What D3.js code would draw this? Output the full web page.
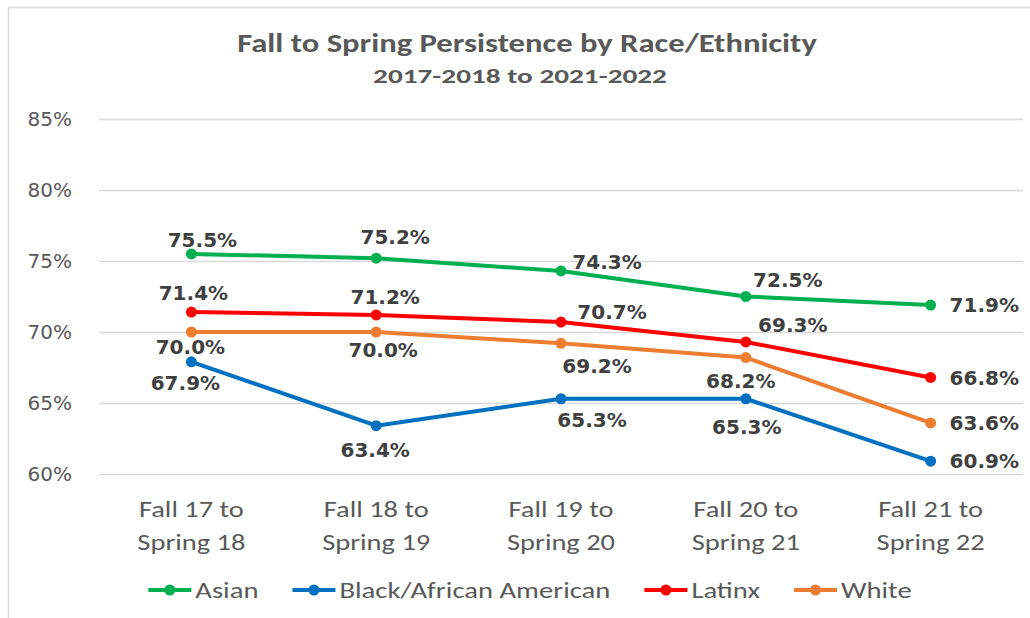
<!DOCTYPE html>
<html>
<head>
<meta charset="utf-8">
<script src="https://cdn.jsdelivr.net/npm/d3@7"></script>
<style>
  html, body { margin: 0; padding: 0; background: #fff; }
  svg { display: block; }
</style>
</head>
<body>
<div id="chart"></div>
<script>
// Chart data
const categories = [
    ["Fall 17 to", "Spring 18"],
    ["Fall 18 to", "Spring 19"],
    ["Fall 19 to", "Spring 20"],
    ["Fall 20 to", "Spring 21"],
    ["Fall 21 to", "Spring 22"]
];
const seriesNames = ["Asian", "Black/African American", "Latinx", "White"];
const asian = [75.5, 75.2, 74.3, 72.5, 71.9];
const black = [67.9, 63.4, 65.3, 65.3, 60.9];
const latinx = [71.4, 71.2, 70.7, 69.3, 66.8];
const white = [70.0, 70.0, 69.2, 68.2, 63.6];
const yTicks = [60, 65, 70, 75, 80, 85];

const colors = ["#00b050", "#0070c0", "#ff0000", "#ed7d31"];

// label offsets (label center relative to the point), last point goes to the right
const labelOffsets = [
    [[11, -14], [19, -21], [46, -9], [42, -17]],
    [[-6, 21], [-1, 24], [31, 21], [1, 28]],
    [[2, -19], [9, -18], [51, -10], [47, -17]],
    [[-1, 15], [7, 18], [36, 22], [-5, 23]]
];

const width = 1030, height = 618;
const margin = { left: 99, right: 1023, top: 119, bottom: 474 };
const sans = "Carlito, Lato, 'Open Sans', sans-serif";

const svg = d3.select("#chart").append("svg")
    .attr("width", width)
    .attr("height", height);

// stretch a text horizontally around ax so it reaches the wanted width
function fitWidth(sel, target, ax) {
    const w = sel.node().getComputedTextLength();
    const sx = target / w;
    sel.attr("transform", `translate(${ax},0) scale(${sx},1) translate(${-ax},0)`);
    return sx;
}

// chart border
svg.append("rect")
    .attr("x", 8.5).attr("y", 7.5)
    .attr("width", 1040).attr("height", 640)
    .attr("fill", "#fff")
    .attr("stroke", "#d9d9d9")
    .attr("stroke-width", 1.5);

// titles
const title = svg.append("text")
    .attr("x", 527).attr("y", 52)
    .attr("text-anchor", "middle")
    .style("font-family", sans)
    .style("font-weight", "bold")
    .style("font-size", "27px")
    .style("fill", "#595959")
    .text("Fall to Spring Persistence by Race/Ethnicity");
fitWidth(title, 580, 527);

const subtitle = svg.append("text")
    .attr("x", 520).attr("y", 83)
    .attr("text-anchor", "middle")
    .style("font-family", sans)
    .style("font-weight", "bold")
    .style("font-size", "21px")
    .style("fill", "#595959")
    .text("2017-2018 to 2021-2022");
fitWidth(subtitle, 294, 520);

const x = d3.scaleBand()
    .domain(d3.range(categories.length))
    .range([margin.left, margin.right]);

const y = d3.scaleLinear()
    .domain([60, 85])
    .range([margin.bottom, margin.top]);

const cx = i => x(i) + x.bandwidth() / 2;

// y axis with gridlines
const yAxis = svg.append("g")
    .attr("transform", `translate(${margin.left},0)`)
    .call(d3.axisLeft(y)
        .tickValues(yTicks)
        .tickSize(-(margin.right - margin.left))
        .tickPadding(27)
        .tickFormat(d => d + "%"));

yAxis.select(".domain").remove();
yAxis.selectAll(".tick line")
    .attr("stroke", "#d9d9d9")
    .attr("stroke-width", 1.5);
yAxis.selectAll(".tick text")
    .style("font-family", "'DejaVu Sans', Verdana, sans-serif")
    .style("font-size", "20px")
    .style("fill", "#595959");

// x category labels
const xLabels = svg.append("g");
let catScale = null;
categories.forEach((lines, i) => {
    lines.forEach((ln, j) => {
        const t = xLabels.append("text")
            .attr("x", cx(i))
            .attr("y", 517 + j * 33)
            .attr("text-anchor", "middle")
            .style("font-family", sans)
            .style("font-size", "23px")
            .style("fill", "#595959")
            .text(ln);
        if (catScale === null) catScale = fitWidth(t, 105, cx(i));
        else t.attr("transform", `translate(${cx(i)},0) scale(${catScale},1) translate(${-cx(i)},0)`);
    });
});

// lines
const allSeries = [asian, black, latinx, white];
const line = d3.line()
    .x((d, i) => cx(i))
    .y(d => y(d));

// draw in order so that Asian ends on top like the original
const drawOrder = [3, 2, 1, 0];
drawOrder.forEach(s => {
    const g = svg.append("g");
    g.append("path")
        .datum(allSeries[s])
        .attr("d", line)
        .attr("fill", "none")
        .attr("stroke", colors[s])
        .attr("stroke-width", 4)
        .attr("stroke-linejoin", "round")
        .attr("stroke-linecap", "round");
    g.selectAll("circle")
        .data(allSeries[s])
        .enter()
        .append("circle")
        .attr("cx", (d, i) => cx(i))
        .attr("cy", d => y(d))
        .attr("r", 5.5)
        .attr("fill", colors[s]);
});

// data labels
const labels = svg.append("g")
    .style("font-family", "'DejaVu Sans', Verdana, sans-serif")
    .style("font-weight", "bold")
    .style("font-size", "20px")
    .style("fill", "#404040");

allSeries.forEach((vals, s) => {
    vals.forEach((v, i) => {
        const last = i === vals.length - 1;
        const off = last ? [19, 0] : labelOffsets[s][i];
        labels.append("text")
            .attr("x", cx(i) + off[0])
            .attr("y", y(v) + off[1])
            .attr("dy", "0.36em")
            .attr("text-anchor", last ? "start" : "middle")
            .text(v.toFixed(1) + "%");
    });
});

// legend
const legend = svg.append("g").attr("transform", "translate(0,590)");
const items = [];
const probe = legend.append("text")
    .style("font-family", sans)
    .style("font-size", "23px")
    .text(seriesNames[1]);
const legScale = 271 / probe.node().getComputedTextLength();
probe.remove();

seriesNames.forEach((name, s) => {
    const item = legend.append("g");
    item.append("line")
        .attr("x1", 0).attr("x2", 43)
        .attr("y1", 0).attr("y2", 0)
        .attr("stroke", colors[s])
        .attr("stroke-width", 4);
    item.append("circle")
        .attr("cx", 21.5).attr("cy", 0)
        .attr("r", 5.5)
        .attr("fill", colors[s]);
    const t = item.append("text")
        .attr("x", 47).attr("y", 0)
        .attr("dy", "0.35em")
        .style("font-family", sans)
        .style("font-size", "23px")
        .style("fill", "#595959")
        .text(name);
    t.attr("transform", `translate(47,0) scale(${legScale},1) translate(-47,0)`);
    const w = 47 + t.node().getComputedTextLength() * legScale;
    items.push({ item, w });
});
const gap = 34;
const total = d3.sum(items, d => d.w) + gap * (items.length - 1);
let lx = 530 - total / 2;
items.forEach(d => {
    d.item.attr("transform", `translate(${lx},0)`);
    lx += d.w + gap;
});
</script>
</body>
</html>
